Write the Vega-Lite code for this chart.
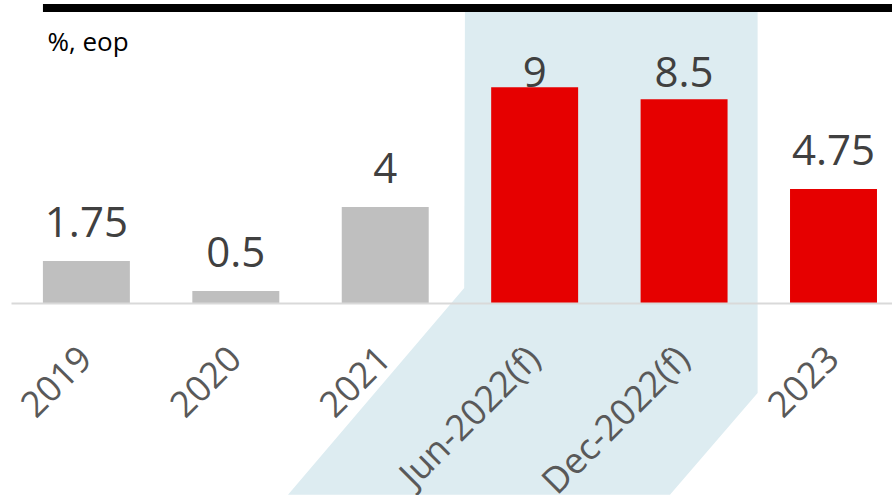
{
  "$schema": "https://vega.github.io/schema/vega-lite/v6.json",
  "width": 881,
  "height": 295,
  "autosize": {"type": "none"},
  "padding": {"left": 11, "top": 8, "right": 0, "bottom": 192},
  "background": "white",
  "config": {
    "view": {"stroke": null},
    "font": "Open Sans",
    "axisY": {"domain": false, "ticks": false, "labels": false, "grid": false, "titleAngle": 0, "titleAlign": "left", "titleBaseline": "alphabetic", "titleX": 36, "titleY": 42, "titleFontSize": 26, "titleFontWeight": "normal", "titleColor": "black", "titleFont": "Open Sans"}
  },
  "datasets": {
    "bars": [
      {"period": "2019", "value": 1.75, "kind": "Actual"},
      {"period": "2020", "value": 0.5, "kind": "Actual"},
      {"period": "2021", "value": 4, "kind": "Actual"},
      {"period": "Jun-2022(f)", "value": 9, "kind": "Forecast"},
      {"period": "Dec-2022(f)", "value": 8.5, "kind": "Forecast"},
      {"period": "2023", "value": 4.75, "kind": "Forecast"}
    ],
    "highlight": [
      {"u": 1.855, "top": -8.0, "bottom": -8.0},
      {"u": 3.035, "top": 0.63, "bottom": -8.0},
      {"u": 3.04, "top": 12.3, "bottom": -8.0},
      {"u": 4.413, "top": 12.3, "bottom": -8.0},
      {"u": 5.0, "top": 12.3, "bottom": -3.75}
    ]
  },
  "layer": [
    {
      "data": {"name": "highlight"},
      "mark": {"type": "area", "color": "#ddecf1", "orient": "vertical", "interpolate": "linear"},
      "encoding": {
        "x": {"field": "u", "type": "quantitative", "scale": {"domain": [0, 5.9], "nice": false, "zero": false}, "axis": null},
        "y": {"field": "top", "type": "quantitative", "scale": {"domain": [0, 12.3], "nice": false}, "axis": {"title": "%, eop"}},
        "y2": {"field": "bottom"}
      }
    },
    {
      "data": {"values": [{"start": 0.214, "end": 5.9}]},
      "mark": {"type": "rule", "color": "black", "strokeWidth": 8, "strokeCap": "butt"},
      "encoding": {
        "x": {"field": "start", "type": "quantitative", "scale": {"domain": [0, 5.9], "nice": false, "zero": false}, "axis": null},
        "x2": {"field": "end"},
        "y": {"datum": 12.3, "type": "quantitative", "axis": {"title": "%, eop"}}
      }
    },
    {
      "data": {"name": "bars"},
      "layer": [
        {
          "mark": {"type": "bar"},
          "encoding": {
            "x": {"field": "period", "type": "nominal", "sort": null, "scale": {"paddingInner": 0.418, "paddingOuter": 0.157, "align": 0.68}, "axis": {"title": null, "zindex": 1, "labelAngle": -45, "labelAlign": "right", "labelBaseline": "middle", "labelFontSize": 36, "labelColor": "#595959", "labelPadding": 50, "ticks": false, "domainColor": "#d9d9d9", "domainWidth": 2, "labelFont": "Open Sans", "labelOverlap": false, "labelLimit": 0}},
            "y": {"field": "value", "type": "quantitative", "scale": {"domain": [0, 12.3], "nice": false}, "axis": {"title": "%, eop"}},
            "color": {"field": "kind", "type": "nominal", "scale": {"domain": ["Actual", "Forecast"], "range": ["#bfbfbf", "#e60000"]}, "legend": null}
          }
        },
        {
          "transform": [{"filter": "datum.value < 8"}],
          "mark": {"type": "text", "fontSize": 42, "color": "#404040", "baseline": "alphabetic", "align": "center", "dy": -24, "font": "Open Sans"},
          "encoding": {
            "x": {"field": "period", "type": "nominal", "sort": null, "axis": {"title": null, "zindex": 1, "labelAngle": -45, "labelAlign": "right", "labelBaseline": "middle", "labelFontSize": 36, "labelColor": "#595959", "labelPadding": 50, "ticks": false, "domainColor": "#d9d9d9", "domainWidth": 2, "labelFont": "Open Sans", "labelOverlap": false, "labelLimit": 0}},
            "y": {"field": "value", "type": "quantitative", "axis": {"title": "%, eop"}},
            "text": {"field": "value", "type": "quantitative"}
          }
        },
        {
          "transform": [{"filter": "datum.value >= 8"}],
          "mark": {"type": "text", "fontSize": 42, "color": "#404040", "baseline": "alphabetic", "align": "center", "dy": -24, "font": "Open Sans"},
          "encoding": {
            "x": {"field": "period", "type": "nominal", "sort": null, "axis": {"title": null, "zindex": 1, "labelAngle": -45, "labelAlign": "right", "labelBaseline": "middle", "labelFontSize": 36, "labelColor": "#595959", "labelPadding": 50, "ticks": false, "domainColor": "#d9d9d9", "domainWidth": 2, "labelFont": "Open Sans", "labelOverlap": false, "labelLimit": 0}},
            "y": {"datum": 8, "type": "quantitative", "axis": {"title": "%, eop"}},
            "text": {"field": "value", "type": "quantitative"}
          }
        }
      ]
    }
  ],
  "resolve": {"scale": {"x": "independent"}}
}
